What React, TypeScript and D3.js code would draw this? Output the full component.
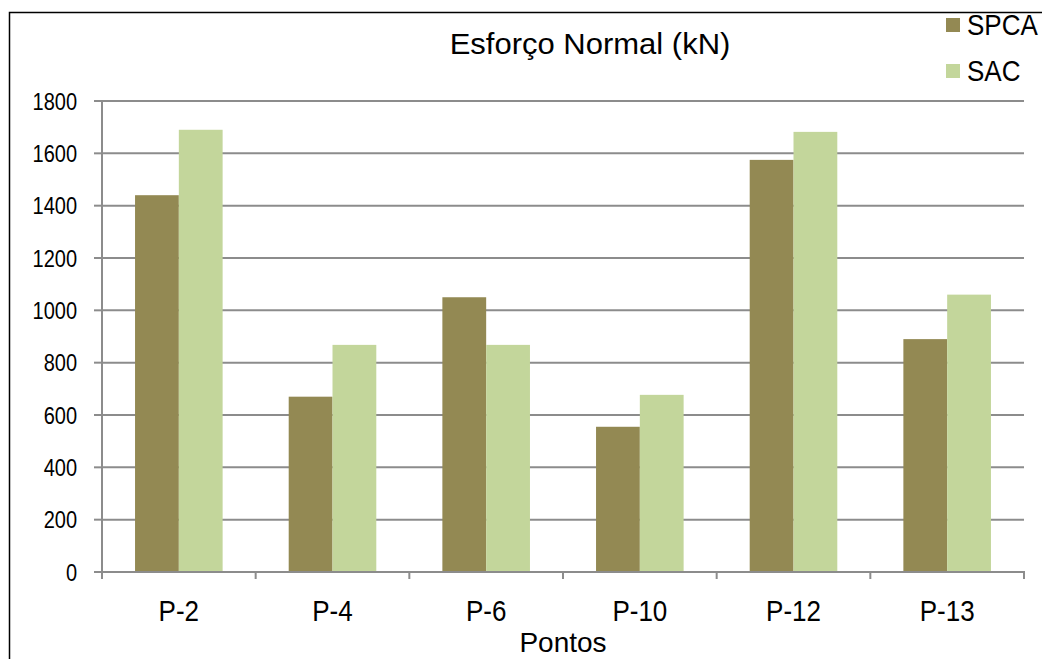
import React from "react";
import * as d3 from "d3";

const categories = ["P-2", "P-4", "P-6", "P-10", "P-12", "P-13"];
const spca = [1440, 670, 1050, 555, 1575, 890];
const sac = [1690, 868, 868, 677, 1682, 1060];
const yTicks = [0, 200, 400, 600, 800, 1000, 1200, 1400, 1600, 1800];
const seriesNames = ["SPCA", "SAC"];
const colors = ["#938953", "#c3d69b"];

const font = "'Liberation Sans', Arial, sans-serif";

function T(props: { x: number; y: number; size: number; sy?: number; anchor?: string; children: React.ReactNode }) {
  const { x, y, size, sy = 1, anchor = "start", children } = props;
  return (
    <text transform={`translate(${x},${y}) scale(1,${sy})`} textAnchor={anchor as any} fontFamily={font} fontSize={size} fill="#000">
      {children}
    </text>
  );
}

export default function App() {
  const W = 1042, H = 659;
  const left = 102, right = 1024, top = 101, bottom = 572;
  const x = d3.scaleBand<string>().domain(categories).range([left, right]).paddingInner(0.43).paddingOuter(0.215);
  const y = d3.scaleLinear().domain([0, 1800]).range([bottom, top]);
  const sub = d3.scaleBand<string>().domain(seriesNames).range([0, x.bandwidth()]);
  const outer = d3.scaleBand<string>().domain(categories).range([left, right]);
  const data = [spca, sac];
  return (
    <div style={{ position: "absolute", left: 0, top: 0 }}>
      <svg width={W} height={H} style={{ display: "block" }}>
        <rect width={W} height={H} fill="#fff" />
        <path d={`M9.5,${H} V12.5 H${W}`} fill="none" stroke="#000" strokeWidth={1.5} />
        {yTicks.map((t) => (
          <g key={t}>
            {t > 0 && <line x1={left} x2={right} y1={y(t)} y2={y(t)} stroke="#8c8c8c" strokeWidth={2} />}
            <line x1={94} x2={left} y1={y(t)} y2={y(t)} stroke="#8c8c8c" strokeWidth={2} />
            <T x={77} y={y(t) + 8.5} size={20} sy={1.15} anchor="end">{t}</T>
          </g>
        ))}
        {categories.map((c, i) =>
          data.map((s, j) => (
            <rect key={c + j} x={(x(c) as number) + (sub(seriesNames[j]) as number)} y={y(s[i])} width={sub.bandwidth()} height={bottom - y(s[i])} fill={colors[j]} />
          ))
        )}
        <line x1={left} x2={left} y1={top} y2={bottom} stroke="#8c8c8c" strokeWidth={2} />
        <line x1={left - 1} x2={right + 1} y1={bottom} y2={bottom} stroke="#8c8c8c" strokeWidth={2} />
        {categories.map((c) => (
          <line key={c} x1={outer(c) as number} x2={outer(c) as number} y1={bottom} y2={bottom + 7} stroke="#8c8c8c" strokeWidth={2} />
        ))}
        <line x1={right} x2={right} y1={bottom} y2={bottom + 7} stroke="#8c8c8c" strokeWidth={2} />
        {categories.map((c) => (
          <T key={c} x={(outer(c) as number) + outer.bandwidth() / 2} y={621} size={26} sy={1.1} anchor="middle">{c}</T>
        ))}
        <T x={563} y={652} size={28} anchor="middle">Pontos</T>
        <T x={590} y={54} size={31} sy={0.96} anchor="middle">Esforço Normal (kN)</T>
        {seriesNames.map((n, j) => (
          <g key={n}>
            <rect x={946} y={18 + j * 46} width={14} height={14} fill={colors[j]} />
            <T x={967} y={35 + j * 46} size={26} sy={1.12}>{n}</T>
          </g>
        ))}
      </svg>
    </div>
  );
}
